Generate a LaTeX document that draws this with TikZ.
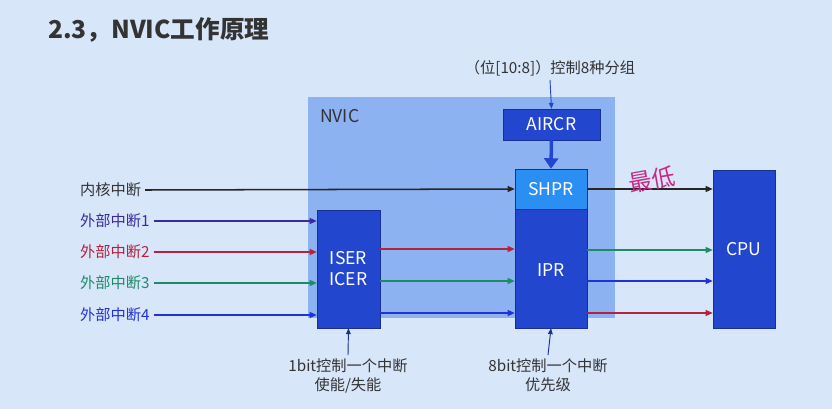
\documentclass[tikz,border=0pt]{standalone}
\usepackage{fontspec}
\setmainfont{Noto Sans CJK SC}
\usetikzlibrary{arrows.meta}
\definecolor{bgblue}{HTML}{D8E6FA}
\definecolor{nvicblue}{HTML}{8DB2F2}
\definecolor{regblue}{HTML}{2346CF}
\definecolor{shprblue}{HTML}{2B8EF2}
\definecolor{lineA}{HTML}{3B2A9E}
\definecolor{lineB}{HTML}{B3223E}
\definecolor{lineC}{HTML}{1F8A6A}
\definecolor{lineD}{HTML}{2232D6}
\newcommand{\labfont}{\fontsize{13}{15.5}\selectfont}
\tikzset{
  reg/.style={draw=regblue!70!black,fill=regblue,text=white,font=\fontsize{15}{18}\selectfont,inner sep=0pt},
  lab/.style={font=\labfont,text=black!80,anchor=west},
  sig/.style={line width=1.3pt,-{Triangle[length=6pt,width=5pt]}},
}
\begin{document}
\begin{tikzpicture}[x=0.03cm,y=-0.03cm]
    \useasboundingbox (0,0) rectangle (832,409);
    \fill[bgblue] (0,0) rectangle (832,409);
    \node[anchor=west,font=\fontsize{21}{24}\selectfont\bfseries,text=black!80] (title) at (44,30) {2.3，NVIC工作原理};
    % NVIC block
    \fill[nvicblue] (308,97) rectangle (615,318);
    \node[anchor=west,font=\fontsize{15}{18}\selectfont,text=black!80] (nvic) at (316,116) {NVIC};
    % registers
    \node[reg,minimum width=97*0.03cm,minimum height=31*0.03cm] (aircr) at (551.5,124.5) {AIRCR};
    \node[reg,fill=shprblue,minimum width=72*0.03cm,minimum height=40*0.03cm] (shpr) at (551,189) {SHPR};
    \node[reg,minimum width=72*0.03cm,minimum height=119*0.03cm] (ipr) at (551,268.5) {};
    \node[text=white,font=\fontsize{15}{18}\selectfont] (iprt) at (551,270) {IPR};
    \node[reg,minimum width=63*0.03cm,minimum height=118*0.03cm,align=center] (iser) at (348.5,269) {ISER\\ICER};
    \node[reg,minimum width=62*0.03cm,minimum height=158*0.03cm] (cpu) at (744,249) {CPU};
    % top note
    \node[font=\labfont,text=black!80] (grp) at (550,68) {（位[10:8]）控制8种分组};
    \draw[regblue,thick,-{Triangle[length=5pt,width=4pt]}] (grp.south) -- (aircr.north);
    \draw[regblue,line width=3pt,-{Triangle[length=9pt,width=12pt]}] (aircr.south) -- (shpr.north);
    % inputs
    \node[lab] (core) at (76,190) {内核中断};
    \node[lab,text=lineA] (ext1) at (76,221) {外部中断1};
    \node[lab,text=lineB] (ext2) at (76,252) {外部中断2};
    \node[lab,text=lineC] (ext3) at (76,283) {外部中断3};
    \node[lab,text=lineD] (ext4) at (76,315) {外部中断4};
    \draw[sig,black!85] (core.east) -- (shpr.west);
    \draw[sig,black!85] (shpr.east) -- (cpu.west |- shpr.east);
    \draw[sig,lineA] (ext1.east) -- (iser.west |- ext1.east);
    \draw[sig,lineB] (ext2.east) -- (iser.west |- ext2.east);
    \draw[sig,lineC] (ext3.east) -- (iser.west |- ext3.east);
    \draw[sig,lineD] (ext4.east) -- (iser.west |- ext4.east);
    % ISER to IPR
    \draw[sig,lineB] (iser.east |- 0,249) -- (ipr.west |- 0,249);
    \draw[sig,lineC] (iser.east |- 0,281) -- (ipr.west |- 0,281);
    \draw[sig,lineD] (iser.east |- 0,313) -- (ipr.west |- 0,313);
    % IPR to CPU
    \draw[sig,lineC] (ipr.east |- 0,250) -- (cpu.west |- 0,250);
    \draw[sig,lineD] (ipr.east |- 0,281) -- (cpu.west |- 0,281);
    \draw[sig,lineB] (ipr.east |- 0,313) -- (cpu.west |- 0,313);
    % handwritten note
    \node[text=magenta!80!black,font=\fontsize{20}{22}\selectfont,rotate=10] (low) at (652,180) {最低};
    % bottom notes
    \node[align=center,font=\labfont,text=black!80,anchor=north] (en) at (348,355) {1bit控制一个中断\\使能/失能};
    \node[align=center,font=\labfont,text=black!80,anchor=north] (pr) at (548,355) {8bit控制一个中断\\优先级};
    \draw[regblue!70!black,thick,-{Triangle[length=5pt,width=4pt]}] (en.north) -- (iser.south);
    \draw[regblue!70!black,thick,-{Triangle[length=5pt,width=4pt]}] (pr.north) -- (ipr.south);
\end{tikzpicture}
\end{document}
